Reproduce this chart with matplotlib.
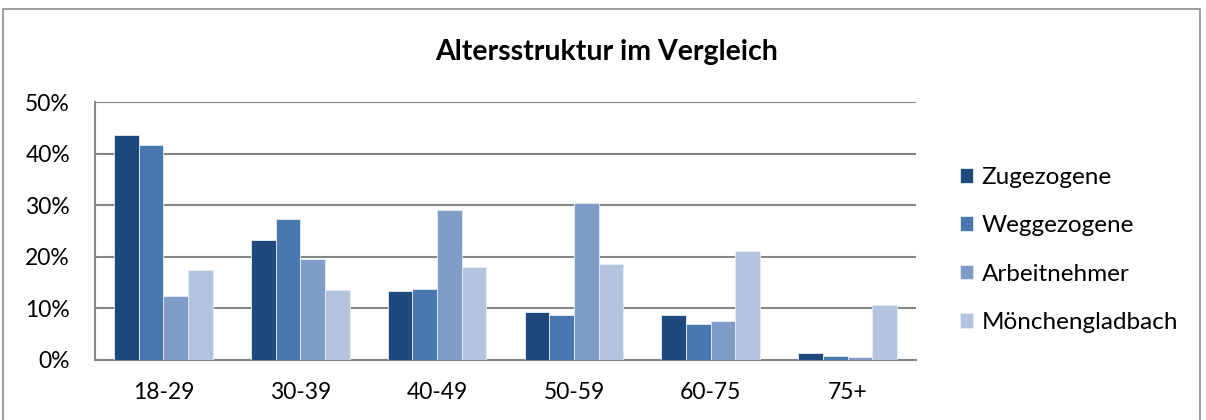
import matplotlib
matplotlib.use("Agg")
import matplotlib.pyplot as plt
import numpy as np
from matplotlib.patches import Rectangle

categories = ["18-29", "30-39", "40-49", "50-59", "60-75", "75+"]
series_names = ["Zugezogene", "Weggezogene", "Arbeitnehmer", "Mönchengladbach"]
zugezogene = [43.6, 23.3, 13.4, 9.3, 8.6, 1.2]
weggezogene = [41.8, 27.4, 13.8, 8.6, 6.9, 0.7]
arbeitnehmer = [12.3, 19.6, 29.0, 30.5, 7.4, 0.4]
moenchengladbach = [17.5, 13.5, 17.9, 18.5, 21.1, 10.6]
colors = ["#1f497d", "#4978b1", "#7f9dc8", "#b5c4de"]

plt.rcParams['font.family'] = ['Lato', 'DejaVu Sans']

fig = plt.figure(figsize=(12.06, 4.2), dpi=100)
# outer chart frame
fig.patches.append(Rectangle((3 / 1206, -0.1), 1197 / 1206, 1.1 - 9 / 420,
                             transform=fig.transFigure, fill=False,
                             edgecolor="#8c8c8c", linewidth=1.2))

ax = fig.add_axes([95 / 1206, 1 - 359.5 / 420, 821 / 1206, 257 / 420])

x = np.arange(len(categories))
n = len(series_names)
bw = 0.72 / n
data = [zugezogene, weggezogene, arbeitnehmer, moenchengladbach]
for i, (name, vals) in enumerate(zip(series_names, data)):
    ax.bar(x - 0.36 + bw * (i + 0.5), vals, bw, color=colors[i], label=name,
           edgecolor="#e6ecf5", linewidth=0.6, zorder=3)

ax.set_xlim(-0.5, len(categories) - 0.5)
ax.set_ylim(0, 50)
ax.set_yticks(range(0, 51, 10))
ax.set_yticklabels([f"{v}%" for v in range(0, 51, 10)], fontsize=16.5)
ax.set_xticks(x)
ax.set_xticklabels(categories, fontsize=16.5)
ax.tick_params(length=0)
ax.tick_params(axis="x", pad=16)
ax.tick_params(axis="y", pad=18)
ax.grid(axis="y", color="#868686", linewidth=1.5, zorder=0)
for s in ["top", "right"]:
    ax.spines[s].set_visible(False)
for s in ["left", "bottom"]:
    ax.spines[s].set_color("#868686")
    ax.spines[s].set_linewidth(1.5)

fig.text(607 / 1206, 1 - 52 / 420, "Altersstruktur im Vergleich", ha="center",
         va="center", fontsize=20.5, fontweight="bold")

ax.legend(loc="center left", bbox_to_anchor=(938 / 1206, 1 - 250 / 420),
          bbox_transform=fig.transFigure, frameon=False, fontsize=17.5,
          handlelength=0.55, handleheight=0.55, handletextpad=0.35,
          labelspacing=1.12)

fig.savefig("out.png", dpi=100)
